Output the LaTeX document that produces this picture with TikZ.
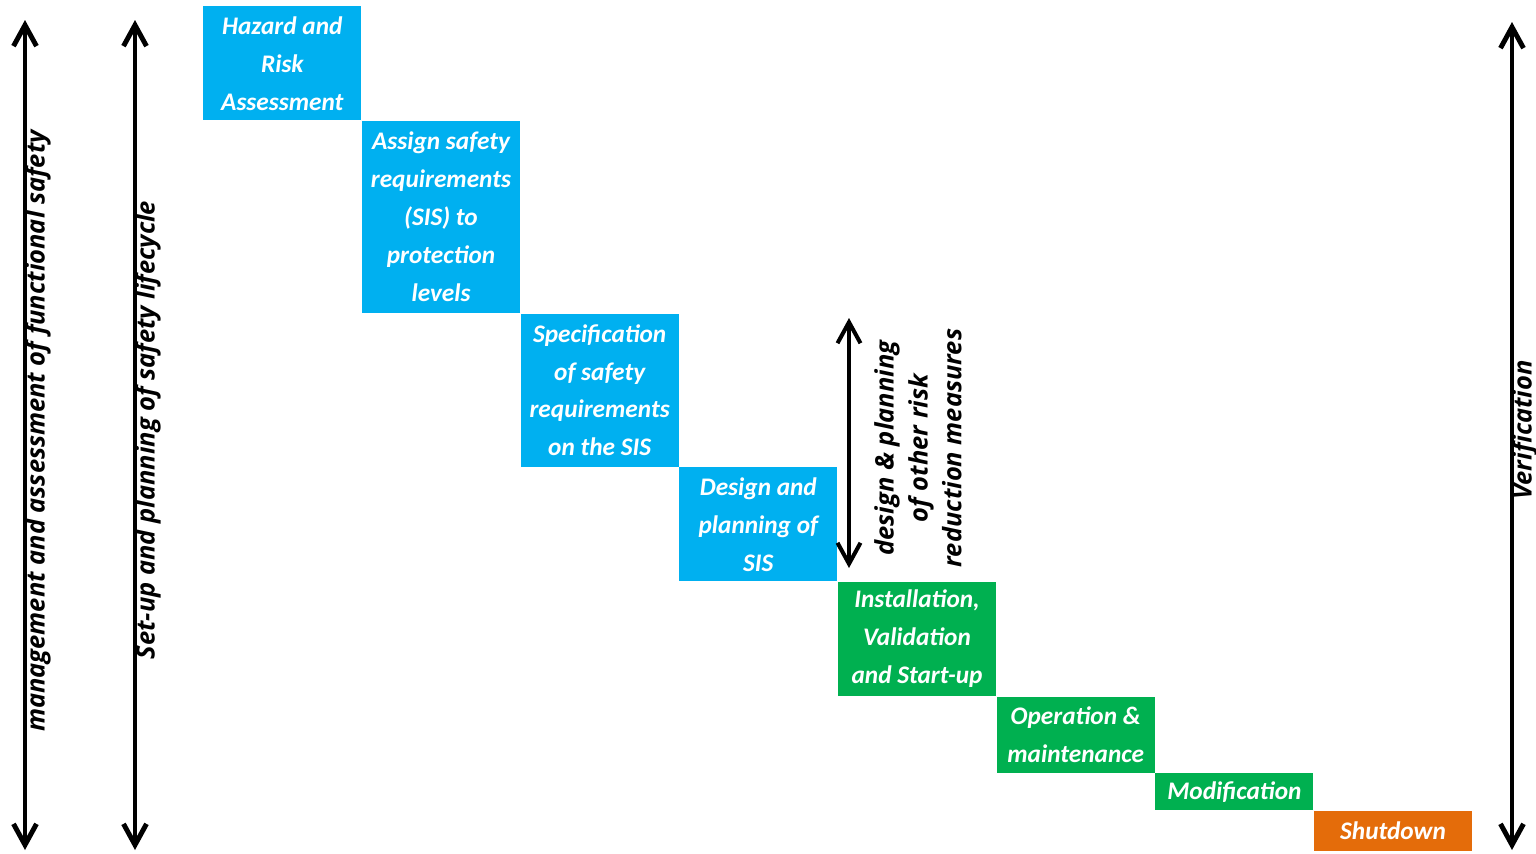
\documentclass[tikz,border=0pt]{standalone}
\usepackage{fontspec}
\setmainfont{Carlito}
\newfontfamily\labelfont{Open Sans}
\usetikzlibrary{arrows.meta, positioning}
\definecolor{stageblue}{HTML}{00B0F0}
\definecolor{stagegreen}{HTML}{00B050}
\definecolor{stageorange}{HTML}{E46C0A}
\tikzstyle{stage} = [rectangle, text=white, minimum width=3.16cm, inner sep=0pt, align=center, anchor=north west, font=\fontsize{14.4}{21.6}\selectfont\bfseries\itshape]
\tikzstyle{phase} = [rotate=90, align=center, inner sep=0pt, font=\labelfont\fontsize{14.5}{19.3}\selectfont\bfseries\itshape]
\tikzstyle{span} = [line width=2.8pt, {Straight Barb[length=0.42cm, width=0.46cm]}-{Straight Barb[length=0.42cm, width=0.46cm]}]

\begin{document}
\begin{tikzpicture}[x=0.02cm, y=-0.02cm]
\useasboundingbox (0,0) rectangle (1536,853);
\node [stage, fill=stageblue, minimum height=2.28cm] (hazard) at (203,6) {Hazard and\\Risk\\Assessment};
\node [stage, fill=stageblue, minimum height=3.84cm] (assign) at (hazard.south east) {Assign safety\\requirements\\(SIS) to\\protection\\levels};
\node [stage, fill=stageblue, minimum height=3.06cm] (spec) at (assign.south east) {Specification\\of safety\\requirements\\on the SIS};
\node [stage, fill=stageblue, minimum height=2.28cm] (design) at (spec.south east) {Design and\\planning of\\SIS};
\node [stage, fill=stagegreen, minimum height=2.28cm] (install) at (design.south east) {Installation,\\Validation\\and Start-up};
\node [stage, fill=stagegreen, minimum height=1.52cm] (operation) at (install.south east) {Operation \&\\maintenance};
\node [stage, fill=stagegreen, minimum height=0.74cm] (modify) at (operation.south east) {Modification};
\node [stage, fill=stageorange, minimum height=0.80cm] (shutdown) at (modify.south east) {Shutdown};

\coordinate (mgmt top) at (25,20);
\coordinate (mgmt bottom) at (25,850);
\coordinate (setup top) at (135,20);
\coordinate (setup bottom) at (135,850);
\coordinate (verif top) at (1512,22);
\coordinate (verif bottom) at (1512,850);
\coordinate (other top) at (849,318);
\coordinate (other bottom) at (849,568);

\draw [span] (mgmt top) -- (mgmt bottom);
\draw [span] (setup top) -- (setup bottom);
\draw [span] (verif top) -- (verif bottom);
\draw [span, line width=2.3pt] (other top) -- (other bottom);

\node [phase] (mgmt) at (38,431) {management and assessment of functional safety};
\node [phase] (setup) at (148,430) {Set-up and planning of safety lifecycle};
\node [phase] (verif) at (1525,430) {Verification};
\node [phase] (other) at (918,448) {design \& planning\\of other risk\\reduction measures};
\end{tikzpicture}
\end{document}
